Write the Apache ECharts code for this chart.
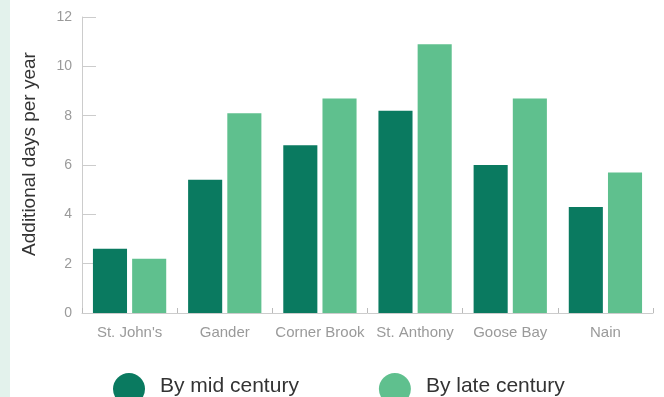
<!DOCTYPE html>
<html>
<head>
<meta charset="utf-8">
<script src="https://cdn.jsdelivr.net/npm/echarts@6/dist/echarts.min.js"></script>
<style>
  html, body { margin: 0; padding: 0; background: #ffffff; }
  #chart { width: 664px; height: 397px; }
</style>
</head>
<body>
<div id="chart"></div>
<script>
// Stations along the x axis
const stations = ["St. John's", "Gander", "Corner Brook", "St. Anthony", "Goose Bay", "Nain"];
// Additional days per year, two time horizons
const midCentury = [2.6, 5.4, 6.8, 8.2, 6.0, 4.3];
const lateCentury = [2.2, 8.1, 8.7, 10.9, 8.7, 5.7];
const seriesNames = ["By mid century", "By late century"];
const yTitle = "Additional days per year";

const FONT = "'Liberation Sans', Arial, Helvetica, sans-serif";
const DARK = "#0a7a60";
const LIGHT = "#5fc08e";

const chart = echarts.init(document.getElementById('chart'), null, { renderer: 'canvas' });

chart.setOption({
  animation: false,
  backgroundColor: '#ffffff',
  textStyle: { fontFamily: FONT },
  graphic: [
    {
      type: 'rect',
      shape: { x: 0, y: 0, width: 10, height: 397 },
      style: { fill: '#e3f2ec' },
      silent: true
    },
    {
      type: 'text',
      x: 30,
      y: 154,
      rotation: Math.PI / 2,
      style: {
        text: yTitle,
        fill: '#333333',
        font: '19px ' + FONT,
        textAlign: 'center',
        textVerticalAlign: 'middle'
      }
    }
  ],
  grid: { left: 82, right: 11, top: 17, bottom: 84, containLabel: false },
  legend: {
    left: 113,
    top: 373,
    padding: 0,
    itemWidth: 32,
    itemHeight: 32,
    itemGap: 80,
    icon: 'circle',
    formatter: '{t|{name}}',
    textStyle: {
      color: '#333333',
      fontSize: 21,
      fontFamily: FONT,
      rich: {
        t: {
          color: '#333333',
          fontSize: 21,
          fontFamily: FONT,
          lineHeight: 24,
          padding: [0, 0, 5, 10]
        }
      }
    },
    data: seriesNames
  },
  xAxis: {
    type: 'category',
    data: stations,
    axisLine: { lineStyle: { color: '#cccccc', width: 1 } },
    axisTick: { show: true, inside: true, length: 5, lineStyle: { color: '#bbbbbb' } },
    axisLabel: { color: '#9a9a9a', fontSize: 15, margin: 12, fontFamily: FONT, interval: 0 }
  },
  yAxis: {
    type: 'value',
    min: 0,
    max: 12,
    interval: 2,
    axisLine: { show: true, lineStyle: { color: '#cccccc', width: 1 } },
    axisTick: { show: true, inside: true, length: 14, lineStyle: { color: '#cccccc' } },
    axisLabel: { color: '#9a9a9a', fontSize: 14, margin: 10, fontFamily: FONT },
    splitLine: { show: false }
  },
  series: [
    {
      name: seriesNames[0],
      type: 'bar',
      data: midCentury,
      itemStyle: { color: DARK },
      barGap: '15%',
      barCategoryGap: '23%'
    },
    {
      name: seriesNames[1],
      type: 'bar',
      data: lateCentury,
      itemStyle: { color: LIGHT },
      barGap: '15%',
      barCategoryGap: '23%'
    }
  ]
});
</script>
</body>
</html>
